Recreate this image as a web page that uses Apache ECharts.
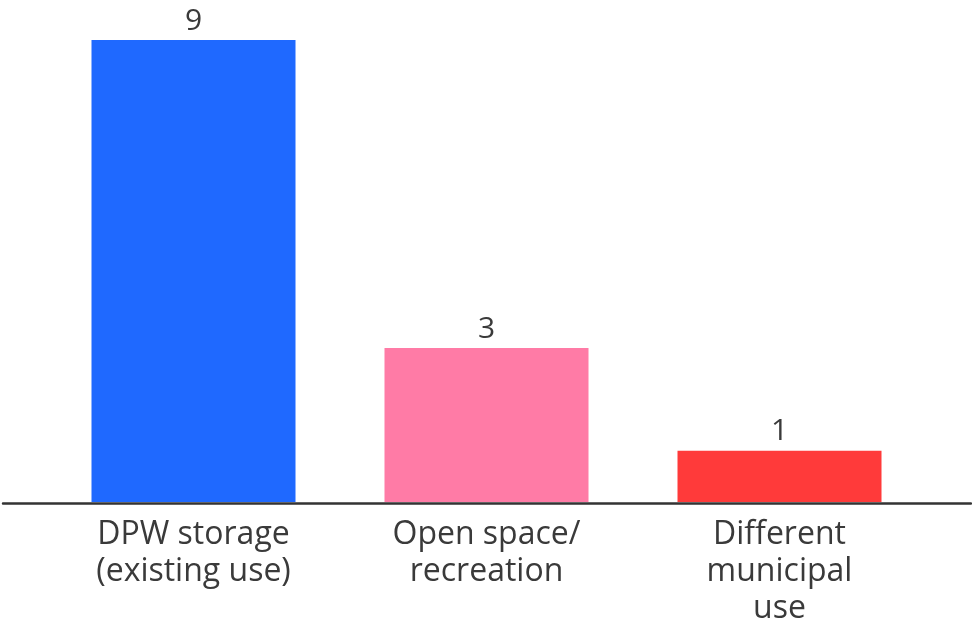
<!DOCTYPE html>
<html>
<head>
<meta charset="utf-8">
<style>
  html, body { margin: 0; padding: 0; background: #ffffff; }
  #chart { width: 972px; height: 627px; }
</style>
<script src="https://cdn.jsdelivr.net/npm/echarts@6/dist/echarts.min.js"></script>
</head>
<body>
<div id="chart"></div>
<script>
// Planned use of the parcels, counted by respondents
const categories = ['DPW storage\n(existing use)', 'Open space/\nrecreation', 'Different\nmunicipal\nuse'];
const counts = [9, 3, 1];
const barColors = ['#1f69ff', '#ff7ba6', '#ff3a3a'];

const textColor = '#3a3a3a';
const fontFamily = '"Open Sans", Lato, sans-serif';

const chart = echarts.init(document.getElementById('chart'), null, { renderer: 'canvas' });

chart.setOption({
  backgroundColor: '#ffffff',
  animation: false,
  grid: [
    { left: 47, right: 46, top: 40, bottom: 124, containLabel: false },
    // full-width strip that carries the baseline rule
    { left: 3, right: 1, top: 40, bottom: 124, containLabel: false }
  ],
  xAxis: [
    {
      type: 'category',
      gridIndex: 0,
      data: categories,
      axisLine: { show: false },
      axisTick: { show: false },
      axisLabel: {
        color: textColor,
        fontFamily: fontFamily,
        fontSize: 32,
        lineHeight: 37,
        margin: 14,
        interval: 0
      }
    },
    {
      type: 'value',
      gridIndex: 1,
      min: 0,
      max: 1,
      axisLine: { show: true, lineStyle: { color: '#333333', width: 2.5 } },
      axisTick: { show: false },
      axisLabel: { show: false },
      splitLine: { show: false }
    }
  ],
  yAxis: [
    { type: 'value', gridIndex: 0, min: 0, max: 9, show: false, splitLine: { show: false } },
    { type: 'value', gridIndex: 1, min: 0, max: 9, show: false, splitLine: { show: false } }
  ],
  series: [
    {
      type: 'bar',
      xAxisIndex: 0,
      yAxisIndex: 0,
      barWidth: 204,
      data: counts.map((v, i) => ({ value: v, itemStyle: { color: barColors[i] } })),
      label: {
        show: true,
        position: 'top',
        distance: 4,
        color: textColor,
        fontFamily: fontFamily,
        fontSize: 30
      },
      z: 2
    }
  ]
});
</script>
</body>
</html>
